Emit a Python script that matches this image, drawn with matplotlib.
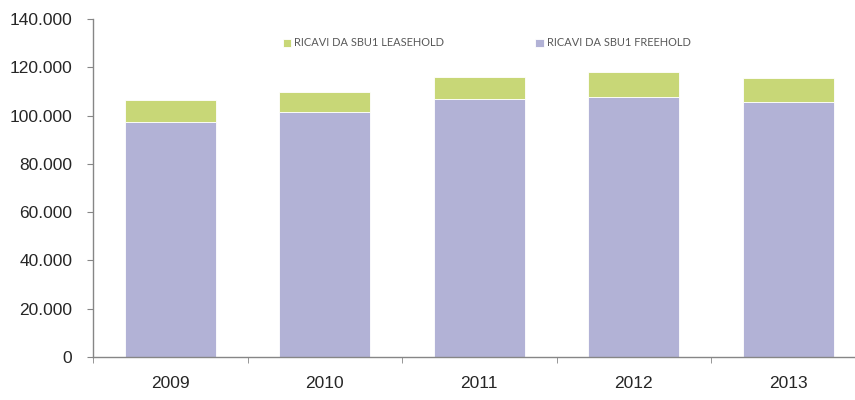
import matplotlib.pyplot as plt
from matplotlib.ticker import FuncFormatter, FixedLocator

years = ["2009", "2010", "2011", "2012", "2013"]
freehold = [97500, 101500, 106900, 107600, 105700]
leasehold = [9100, 8400, 9200, 10300, 9900]

GREEN = "#C8D777"
PURPLE = "#B2B2D6"
TEXT = "#262626"


def thousands(v, pos):
    return f"{int(v):,}".replace(",", ".")


fig = plt.figure(figsize=(8.55, 4.0), dpi=100)
ax = fig.add_axes([93 / 855, 43 / 400, 1 - 93 / 855, 338 / 400])

x = range(len(years))
b1 = ax.bar(x, freehold, width=0.59, color=PURPLE, edgecolor="white", linewidth=0.6,
            label="RICAVI DA SBU1 FREEHOLD")
b2 = ax.bar(x, leasehold, bottom=freehold, width=0.59, color=GREEN, edgecolor="white",
            linewidth=0.6, label="RICAVI DA SBU1 LEASEHOLD")

ax.set_xlim(-0.5, 4.432)
ax.set_ylim(0, 140000)
ax.set_yticks(range(0, 140001, 20000))
ax.yaxis.set_major_formatter(FuncFormatter(thousands))
ax.set_xticks(list(x))
ax.set_xticklabels(years)
ax.xaxis.set_minor_locator(FixedLocator([-0.5, 0.5, 1.5, 2.5, 3.5]))

for side in ["top", "right"]:
    ax.spines[side].set_visible(False)
for side in ["left", "bottom"]:
    ax.spines[side].set_color("#868686")
    ax.spines[side].set_linewidth(1.0)

ax.tick_params(axis="y", direction="out", length=4, color="#868686", labelsize=12.5,
               labelcolor=TEXT, pad=11)
ax.tick_params(axis="x", which="major", length=0, labelsize=12.5, labelcolor=TEXT, pad=14)
ax.tick_params(axis="x", which="minor", direction="out", length=4, color="#868686")
for lab in ax.get_xticklabels() + ax.get_yticklabels():
    lab.set_family(["Liberation Sans", "DejaVu Sans"])

fig.legend([b2, b1], ["RICAVI DA SBU1 LEASEHOLD", "RICAVI DA SBU1 FREEHOLD"],
           loc="center left", bbox_to_anchor=(273 / 855, 1 - 43 / 400), ncol=2,
           frameon=False, handlelength=0.75, handleheight=0.75,
           handletextpad=0.3, columnspacing=8.3, labelcolor="#595959",
           prop={"family": "Lato", "size": 7.9})

fig.savefig("out.png", dpi=100)
